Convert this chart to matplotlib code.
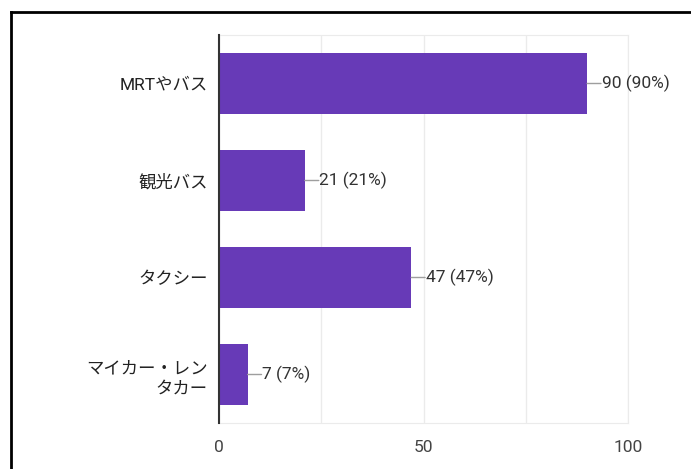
import matplotlib
matplotlib.use("Agg")
import matplotlib.pyplot as plt
from matplotlib.lines import Line2D

plt.rcParams['font.family'] = ['Roboto', 'Noto Sans CJK JP', 'DejaVu Sans']

categories = ["MRTやバス", "観光バス", "タクシー", "マイカー・レン\nタカー"]
counts = [90, 21, 47, 7]
percents = [90, 21, 47, 7]
xticks = [0, 50, 100]

W, H = 691, 469
fig = plt.figure(figsize=(W / 100, H / 100), dpi=100)
ax = fig.add_axes([219 / W, (H - 423) / H, (628 - 219) / W, (423 - 35) / H])

ypos = list(range(len(categories)))
ax.barh(ypos, counts, height=0.62, color="#673AB7", zorder=3)
ax.set_ylim(len(categories) - 0.5, -0.5)
ax.set_xlim(0, 100)

for y, c, p in zip(ypos, counts, percents):
    ax.annotate("", xy=(c, y), xytext=(10, 0), textcoords="offset points",
                arrowprops=dict(arrowstyle="-", color="#9e9e9e", lw=1.0,
                                shrinkA=0, shrinkB=0))
    ax.annotate(f"{c} ({p}%)", xy=(c, y), xytext=(10.5, 0), textcoords="offset points",
                va="center", ha="left", fontsize=12.5, color="#333333")

ax.set_xticks(xticks)
ax.set_xticklabels([str(t) for t in xticks], fontsize=12.5, color="#444444")
ax.set_xticks([25, 75], minor=True)
ax.grid(axis="x", which="both", color="#ebebeb", lw=1, zorder=0)
ax.tick_params(axis="x", which="both", length=0, pad=12)
ax.set_yticks(ypos)
ax.set_yticklabels(categories, fontsize=12.5, color="#222222", linespacing=1.45)
ax.tick_params(axis="y", length=0, pad=8)

for s in ["top", "right"]:
    ax.spines[s].set_color("#ebebeb")
ax.spines["bottom"].set_color("#ebebeb")
ax.spines["left"].set_color("#333333")
ax.spines["left"].set_linewidth(1.5)
ax.spines["left"].set_zorder(4)

# frame border
fig.add_artist(Line2D([11 / W, 11 / W], [0, 1 - 12 / H], transform=fig.transFigure, color="black", lw=2))
fig.add_artist(Line2D([11 / W, 1], [1 - 12 / H, 1 - 12 / H], transform=fig.transFigure, color="black", lw=2))

fig.savefig("out.png", dpi=100, facecolor="white")
